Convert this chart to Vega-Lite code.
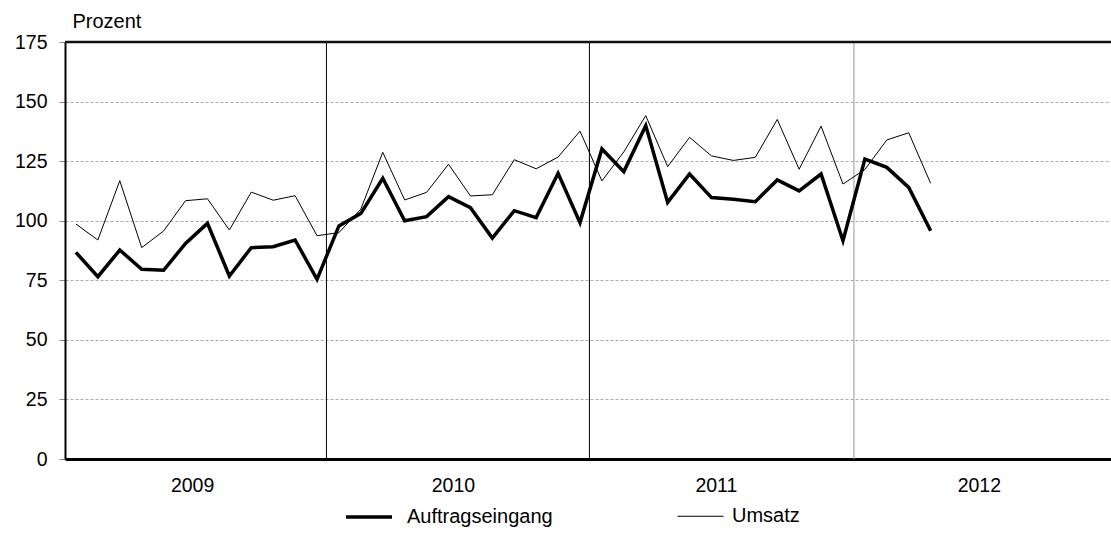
{
  "$schema": "https://vega.github.io/schema/vega-lite/v6.json",
  "width": 1046,
  "height": 417,
  "autosize": {"type": "none"},
  "padding": {"left": 65, "top": 42, "right": 0, "bottom": 75},
  "config": {"font": "Liberation Sans", "view": {"stroke": null}},
  "layer": [
    {
      "data": {"values": [{"m": 11.93}, {"m": 23.93}]},
      "mark": {"type": "rule", "color": "black", "strokeWidth": 1},
      "encoding": {"x": {"field": "m", "type": "quantitative"}}
    },
    {
      "data": {"values": [{"m": 36}]},
      "mark": {"type": "rule", "color": "#999999", "strokeWidth": 1},
      "encoding": {"x": {"field": "m", "type": "quantitative"}}
    },
    {
      "data": {"values": [{"top": 175}]},
      "mark": {"type": "rule", "color": "#111111", "strokeWidth": 2.5},
      "encoding": {"y": {"field": "top", "type": "quantitative"}}
    },
    {
      "data": {
        "values": [
          {"m": 0.5, "series": "Auftragseingang", "v": 86.7},
          {"m": 1.5, "series": "Auftragseingang", "v": 76.5},
          {"m": 2.5, "series": "Auftragseingang", "v": 87.7},
          {"m": 3.5, "series": "Auftragseingang", "v": 79.6},
          {"m": 4.5, "series": "Auftragseingang", "v": 79.2},
          {"m": 5.5, "series": "Auftragseingang", "v": 90.5},
          {"m": 6.5, "series": "Auftragseingang", "v": 98.9},
          {"m": 7.5, "series": "Auftragseingang", "v": 76.8},
          {"m": 8.5, "series": "Auftragseingang", "v": 88.7},
          {"m": 9.5, "series": "Auftragseingang", "v": 89.1},
          {"m": 10.5, "series": "Auftragseingang", "v": 91.9},
          {"m": 11.5, "series": "Auftragseingang", "v": 75.4},
          {"m": 12.5, "series": "Auftragseingang", "v": 97.8},
          {"m": 13.5, "series": "Auftragseingang", "v": 103.1},
          {"m": 14.5, "series": "Auftragseingang", "v": 117.8},
          {"m": 15.5, "series": "Auftragseingang", "v": 100.0},
          {"m": 16.5, "series": "Auftragseingang", "v": 101.7},
          {"m": 17.5, "series": "Auftragseingang", "v": 110.1},
          {"m": 18.5, "series": "Auftragseingang", "v": 105.5},
          {"m": 19.5, "series": "Auftragseingang", "v": 92.7},
          {"m": 20.5, "series": "Auftragseingang", "v": 104.2},
          {"m": 21.5, "series": "Auftragseingang", "v": 101.3},
          {"m": 22.5, "series": "Auftragseingang", "v": 119.9},
          {"m": 23.5, "series": "Auftragseingang", "v": 99.2},
          {"m": 24.5, "series": "Auftragseingang", "v": 130.1},
          {"m": 25.5, "series": "Auftragseingang", "v": 120.6},
          {"m": 26.5, "series": "Auftragseingang", "v": 139.9},
          {"m": 27.5, "series": "Auftragseingang", "v": 107.7},
          {"m": 28.5, "series": "Auftragseingang", "v": 119.6},
          {"m": 29.5, "series": "Auftragseingang", "v": 109.7},
          {"m": 30.5, "series": "Auftragseingang", "v": 109.0},
          {"m": 31.5, "series": "Auftragseingang", "v": 108.0},
          {"m": 32.5, "series": "Auftragseingang", "v": 117.1},
          {"m": 33.5, "series": "Auftragseingang", "v": 112.5},
          {"m": 34.5, "series": "Auftragseingang", "v": 119.6},
          {"m": 35.5, "series": "Auftragseingang", "v": 91.6},
          {"m": 36.5, "series": "Auftragseingang", "v": 125.9},
          {"m": 37.5, "series": "Auftragseingang", "v": 122.4},
          {"m": 38.5, "series": "Auftragseingang", "v": 114.0},
          {"m": 39.5, "series": "Auftragseingang", "v": 95.8},
          {"m": 0.5, "series": "Umsatz", "v": 98.6},
          {"m": 1.5, "series": "Umsatz", "v": 91.9},
          {"m": 2.5, "series": "Umsatz", "v": 116.8},
          {"m": 3.5, "series": "Umsatz", "v": 88.7},
          {"m": 4.5, "series": "Umsatz", "v": 95.7},
          {"m": 5.5, "series": "Umsatz", "v": 108.4},
          {"m": 6.5, "series": "Umsatz", "v": 109.2},
          {"m": 7.5, "series": "Umsatz", "v": 96.1},
          {"m": 8.5, "series": "Umsatz", "v": 112.0},
          {"m": 9.5, "series": "Umsatz", "v": 108.6},
          {"m": 10.5, "series": "Umsatz", "v": 110.5},
          {"m": 11.5, "series": "Umsatz", "v": 93.7},
          {"m": 12.5, "series": "Umsatz", "v": 95.0},
          {"m": 13.5, "series": "Umsatz", "v": 104.9},
          {"m": 14.5, "series": "Umsatz", "v": 128.7},
          {"m": 15.5, "series": "Umsatz", "v": 108.7},
          {"m": 16.5, "series": "Umsatz", "v": 111.9},
          {"m": 17.5, "series": "Umsatz", "v": 123.7},
          {"m": 18.5, "series": "Umsatz", "v": 110.4},
          {"m": 19.5, "series": "Umsatz", "v": 110.9},
          {"m": 20.5, "series": "Umsatz", "v": 125.6},
          {"m": 21.5, "series": "Umsatz", "v": 121.8},
          {"m": 22.5, "series": "Umsatz", "v": 126.7},
          {"m": 23.5, "series": "Umsatz", "v": 137.6},
          {"m": 24.5, "series": "Umsatz", "v": 116.7},
          {"m": 25.5, "series": "Umsatz", "v": 128.9},
          {"m": 26.5, "series": "Umsatz", "v": 144.1},
          {"m": 27.5, "series": "Umsatz", "v": 122.7},
          {"m": 28.5, "series": "Umsatz", "v": 135.0},
          {"m": 29.5, "series": "Umsatz", "v": 127.2},
          {"m": 30.5, "series": "Umsatz", "v": 125.3},
          {"m": 31.5, "series": "Umsatz", "v": 126.6},
          {"m": 32.5, "series": "Umsatz", "v": 142.5},
          {"m": 33.5, "series": "Umsatz", "v": 121.6},
          {"m": 34.5, "series": "Umsatz", "v": 139.7},
          {"m": 35.5, "series": "Umsatz", "v": 115.4},
          {"m": 36.5, "series": "Umsatz", "v": 121.5},
          {"m": 37.5, "series": "Umsatz", "v": 133.9},
          {"m": 38.5, "series": "Umsatz", "v": 136.9},
          {"m": 39.5, "series": "Umsatz", "v": 115.7}
        ]
      },
      "mark": {"type": "line", "stroke": "black", "strokeJoin": "miter"},
      "encoding": {
        "x": {
          "field": "m",
          "type": "quantitative",
          "scale": {"domain": [0, 47.73], "nice": false, "zero": false},
          "axis": {
            "title": null,
            "values": [5.8, 17.7, 29.7, 41.7],
            "labelExpr": "toString(2009 + floor(datum.value / 12))",
            "ticks": false,
            "tickSize": 0,
            "labelFontSize": 19.5,
            "labelColor": "black",
            "labelBaseline": "alphabetic",
            "labelPadding": 32,
            "labelFlush": false,
            "labelOverlap": false,
            "domainColor": "black",
            "domainWidth": 3,
            "grid": false
          }
        },
        "y": {
          "field": "v",
          "type": "quantitative",
          "scale": {"domain": [0, 175], "nice": false},
          "axis": {
            "title": "Prozent",
            "titleAngle": 0,
            "titleAlign": "left",
            "titleBaseline": "alphabetic",
            "titleX": 7,
            "titleY": -15,
            "titleFontSize": 20,
            "titleFontWeight": "normal",
            "titleColor": "black",
            "values": [0, 25, 50, 75, 100, 125, 150, 175],
            "labelFontSize": 19.5,
            "labelColor": "black",
            "labelPadding": 12,
            "tickSize": 6,
            "tickColor": "#888888",
            "domainColor": "black",
            "domainWidth": 2,
            "grid": true,
            "gridDash": [3, 2],
            "gridColor": "#aaaaaa",
            "gridWidth": 1
          }
        },
        "strokeWidth": {
          "field": "series",
          "type": "ordinal",
          "scale": {"type": "point", "domain": ["Auftragseingang", "Umsatz"], "range": [3.5, 1], "padding": 0},
          "legend": {
            "title": null,
            "orient": "none",
            "legendX": 279,
            "legendY": 450,
            "direction": "horizontal",
            "symbolType": "stroke",
            "symbolSize": 2116,
            "symbolStrokeColor": "black",
            "labelFontSize": 20,
            "labelColor": "black",
            "labelOffset": 13,
            "columnPadding": 122,
            "padding": 0,
            "encode": {
              "labels": {"update": {"dx": {"signal": "datum.value === 'Umsatz' ? -5 : 0"}}}
            }
          }
        }
      }
    }
  ]
}
